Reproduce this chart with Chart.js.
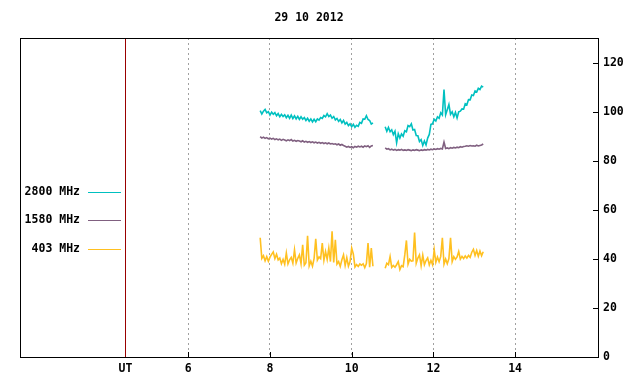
<!DOCTYPE html>
<html><head><meta charset="utf-8">
<script src="https://cdn.jsdelivr.net/npm/chart.js@4"></script>
<style>html,body{margin:0;padding:0;background:#fff}#c{display:block}</style>
</head><body>
<canvas id="c" width="640" height="384"></canvas>
<script>
const chartTitle = '29 10 2012';
const seriesNames = ['2800 MHz', '1580 MHz', '403 MHz'];
const seriesColors = ['#00c0c0', '#806080', '#ffc020'];
const xTickHours = [6, 8, 10, 12, 14];
const utHour = 4.46;
const utLabel = 'UT';
const yTickValues = [0, 20, 40, 60, 80, 100, 120];
const sampleStepHours = 0.04;
const seg1StartHour = 7.76;
const seg2StartHour = 10.82;
const gapHour = 10.7;

const mhz2800Seg1 = [100.4,99.0,100.2,100.9,99.5,100.0,98.6,99.8,98.9,99.6,
  98.3,99.2,97.9,98.9,98.0,98.7,97.5,98.5,97.3,98.6,
  97.2,98.3,97.0,98.1,96.8,97.9,96.9,97.6,96.4,97.3,
  96.1,97.0,95.8,96.9,95.9,97.0,96.5,97.6,97.2,98.4,
  97.9,99.2,98.0,98.6,97.3,98.0,96.6,97.2,96.0,96.8,
  95.4,96.4,94.9,95.6,94.3,95.0,93.8,94.8,93.6,94.4,
  94.0,95.6,95.2,97.0,96.9,98.3,96.8,96.4,94.9,95.4];
const mhz2800Seg2 = [93.8,92.0,93.6,91.8,92.6,90.6,92.0,87.3,91.0,89.2,
  90.9,90.0,92.2,91.8,94.3,93.9,95.0,92.5,92.7,90.3,
  90.2,87.8,88.6,86.2,88.0,86.4,89.2,90.7,94.8,95.0,
  96.9,96.2,97.9,97.3,99.5,98.6,109.0,98.7,100.8,102.9,
  98.9,99.9,97.9,99.7,97.4,99.9,100.2,101.1,101.0,103.2,
  102.8,104.9,104.8,106.8,106.6,108.4,108.0,109.5,109.0,110.4,110.0];

const mhz1580Seg1 = [89.8,89.2,89.6,89.1,89.4,88.9,89.2,88.8,89.1,88.6,
  88.9,88.5,88.8,88.3,88.7,88.4,88.1,88.5,88.2,88.6,
  88.0,88.3,87.9,88.2,88.0,87.7,88.1,87.6,87.9,87.5,
  87.8,87.4,87.7,87.3,87.6,87.2,87.5,87.1,87.4,87.0,
  87.3,86.9,87.2,86.8,87.0,86.7,86.9,86.5,86.8,86.3,
  86.6,86.2,85.9,85.5,85.8,85.4,85.7,85.3,85.8,85.5,
  85.9,85.6,85.9,85.5,86.0,85.7,86.1,85.4,86.0,86.2];
const mhz1580Seg2 = [85.2,84.7,84.9,84.4,84.7,84.3,84.6,84.2,84.5,84.3,
  84.6,84.2,84.4,84.2,84.5,84.3,84.1,84.4,84.2,84.5,
  84.3,84.1,84.4,84.2,84.5,84.3,84.6,84.4,84.7,84.5,
  84.8,84.6,84.9,84.7,85.0,84.8,87.6,85.0,85.2,84.9,
  85.3,85.1,85.4,85.2,85.5,85.3,85.7,85.5,85.8,85.9,
  86.1,85.9,86.2,86.0,86.1,85.9,86.3,86.0,86.2,86.4,86.8];

const mhz403Seg1 = [48.6,40.2,41.3,39.2,40.9,39.0,40.7,41.8,42.8,40.1,
  41.9,39.6,40.3,38.0,39.8,37.8,42.4,37.9,39.6,40.6,
  38.2,43.7,38.3,40.2,41.6,38.0,45.7,37.4,38.4,49.4,
  37.1,39.0,37.0,40.2,48.2,39.5,40.8,40.1,46.4,39.4,
  43.0,39.8,44.4,38.9,51.2,38.5,47.8,37.9,38.9,36.9,
  39.6,41.6,37.3,40.5,37.0,38.9,44.4,42.0,36.7,37.7,
  36.9,37.9,37.4,38.0,36.4,38.1,46.4,36.6,44.4,37.0];
const mhz403Seg2 = [36.2,38.2,37.6,40.9,36.5,37.3,36.6,37.6,38.9,35.6,
  37.2,36.8,41.6,47.5,37.8,39.8,39.1,39.2,50.7,38.2,
  40.3,41.6,37.2,41.5,37.6,39.3,40.4,37.5,39.4,37.6,
  43.7,38.6,40.7,38.8,41.0,48.6,37.8,39.9,38.0,40.1,
  48.6,38.9,40.9,39.8,40.8,43.0,39.9,41.0,40.1,41.2,
  40.3,41.4,40.6,42.7,43.9,41.4,43.4,41.1,43.2,41.3,42.9];

const FONT = "'DejaVu Sans Mono', monospace";
const fontSpec = {family: FONT, size: 11.5, weight: 'bold'};

function toPoints(startHour, values) {
  return values.map((v, i) => ({x: +(startHour + i * sampleStepHours).toFixed(3), y: v}));
}
function series(seg1, seg2) {
  return [...toPoints(seg1StartHour, seg1), {x: gapHour, y: null}, ...toPoints(seg2StartHour, seg2)];
}
const seriesData = [series(mhz2800Seg1, mhz2800Seg2), series(mhz1580Seg1, mhz1580Seg2), series(mhz403Seg1, mhz403Seg2)];

const framePlugin = {
  id: 'frame',
  afterDatasetsDraw(chart) {
    const {ctx, chartArea: a, scales: {x, y}} = chart;
    ctx.save();
    ctx.lineWidth = 1;
    const ux = Math.round(x.getPixelForValue(utHour)) + 0.5;
    ctx.strokeStyle = '#990000';
    ctx.beginPath(); ctx.moveTo(ux, a.top); ctx.lineTo(ux, a.bottom); ctx.stroke();
    ctx.strokeStyle = '#000';
    ctx.beginPath();
    xTickHours.forEach(h => {
      const px = Math.round(x.getPixelForValue(h)) + 0.5;
      ctx.moveTo(px, a.bottom); ctx.lineTo(px, a.bottom - 5);
    });
    yTickValues.forEach(v => {
      const py = Math.round(y.getPixelForValue(v)) + 0.5;
      ctx.moveTo(a.right, py); ctx.lineTo(a.right - 5, py);
    });
    ctx.stroke();
    ctx.strokeRect(Math.round(a.left) + 0.5, Math.round(a.top) + 0.5, Math.round(a.right - a.left), Math.round(a.bottom - a.top));
    // legend
    ctx.font = 'bold 11.5px ' + FONT;
    ctx.fillStyle = '#000';
    ctx.textAlign = 'right';
    ctx.textBaseline = 'middle';
    const rows = [192, 220, 249];
    seriesNames.forEach((name, i) => {
      ctx.fillText(name, 80, rows[i]);
      ctx.strokeStyle = seriesColors[i];
      ctx.beginPath(); ctx.moveTo(88, rows[i] + 0.5); ctx.lineTo(121, rows[i] + 0.5); ctx.stroke();
    });
    ctx.restore();
  }
};

new Chart(document.getElementById('c').getContext('2d'), {
  type: 'line',
  data: {
    datasets: seriesNames.map((name, i) => ({
      label: name,
      data: seriesData[i],
      borderColor: seriesColors[i],
      backgroundColor: seriesColors[i],
      borderWidth: 1.6,
      pointRadius: 0,
      tension: 0,
      spanGaps: false,
      fill: false
    }))
  },
  options: {
    responsive: false,
    animation: false,
    devicePixelRatio: 1,
    layout: {padding: {left: 20, right: 0, top: 0, bottom: 0}},
    plugins: {
      legend: {display: false},
      tooltip: {enabled: false},
      title: {display: true, text: chartTitle, fullSize: false, color: '#000', font: fontSpec, padding: {top: 11, bottom: 13.2}}
    },
    scales: {
      x: {
        type: 'linear', position: 'bottom', min: 1.88, max: 16.03,
        afterBuildTicks: s => { s.ticks = [utHour, ...xTickHours].map(v => ({value: v})); },
        afterFit: s => { s.height = 27; },
        ticks: {autoSkip: false, maxRotation: 0, padding: 5, color: '#000', font: fontSpec,
          callback: v => v === utHour ? utLabel : String(v)},
        grid: {drawTicks: false, lineWidth: 1,
          color: c => (c.tick && c.tick.value === utHour) ? 'rgba(0,0,0,0)' : '#a0a0a0'},
        border: {display: false, dash: [2, 3]}
      },
      y: {
        type: 'linear', position: 'right', min: 0, max: 130,
        afterBuildTicks: s => { s.ticks = yTickValues.map(v => ({value: v})); },
        afterFit: s => { s.width = 42; },
        ticks: {padding: 5, color: '#000', font: fontSpec},
        grid: {display: false, drawTicks: false},
        border: {display: false}
      }
    }
  },
  plugins: [framePlugin]
});
</script>
</body></html>
